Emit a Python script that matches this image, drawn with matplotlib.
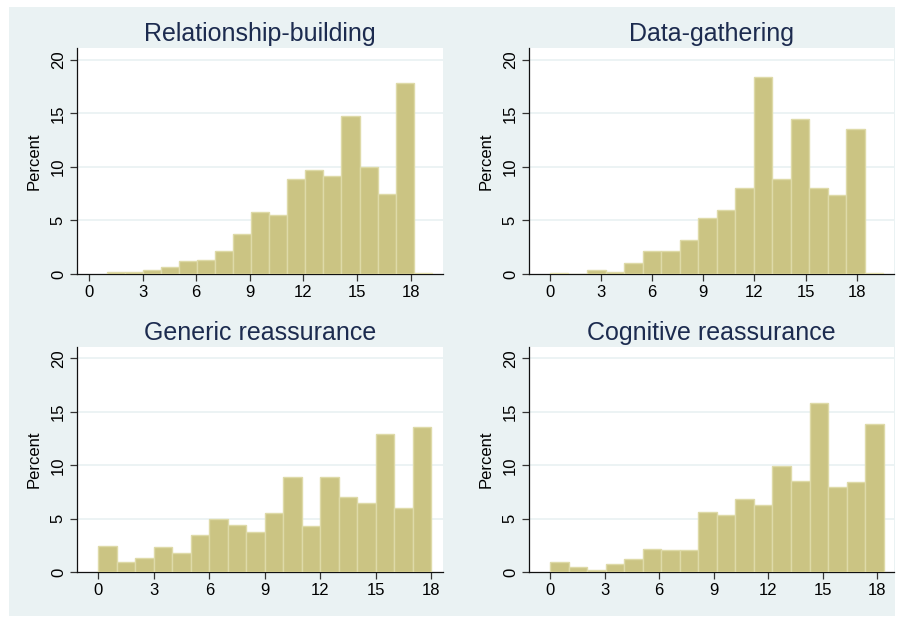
import matplotlib
matplotlib.use("Agg")
import matplotlib.pyplot as plt
import matplotlib.patches as mpatches

plt.rcParams.update({
    "font.family": ["Liberation Sans", "DejaVu Sans"],
    "axes.spines.top": False,
    "axes.spines.right": False,
})

BG = "#eaf2f3"
BAR = "#cbc483"
BAR_EDGE = "#dedaa8"
TITLE_C = "#1c2b4f"

# ── Data (percent per bin) ─────────────────────────────────────────────────────
titles = ["Relationship-building", "Data-gathering",
          "Generic reassurance", "Cognitive reassurance"]

rel_pct = [0.19, 0.19, 0.40, 0.65, 1.24, 1.34, 2.18, 3.76, 5.79, 5.54,
           8.86, 9.70, 9.18, 14.74, 9.98, 7.46, 17.82, 0.09]
dat_pct = [0.09, 0.0, 0.40, 0.19, 1.03, 2.18, 2.18, 3.20, 5.23, 5.97,
           8.02, 18.38, 8.86, 14.46, 8.02, 7.37, 13.53, 0.09]
gen_pct = [2.42, 0.93, 1.30, 2.33, 1.77, 3.45, 4.94, 4.38, 3.73, 5.50,
           8.88, 4.29, 8.88, 7.08, 6.52, 12.95, 6.06, 13.60]
cog_pct = [0.93, 0.47, 0.22, 0.75, 1.21, 2.14, 2.05, 2.05, 5.68, 5.40,
           6.89, 6.34, 9.97, 8.57, 15.84, 8.01, 8.48, 13.88]

# bin start and bin width of each histogram
bin_start = [1.0, 0.0, 0.0, 0.0]
bin_width = [1.01, 1.087, 1.0, 1.02]

x_ticks = [0, 3, 6, 9, 12, 15, 18]
y_ticks = [0, 5, 10, 15, 20]
x_lims = [(-0.67, 19.81), (-1.23, 20.19), (-1.15, 18.63), (-1.16, 18.93)]

series = [rel_pct, dat_pct, gen_pct, cog_pct]

# ── Figure ────────────────────────────────────────────────────────────────────
W, H = 903, 621
fig = plt.figure(figsize=(W / 100, H / 100), dpi=100)
fig.patch.set_facecolor("white")
fig.patches.append(mpatches.Rectangle((9 / W, 1 - 616 / H), 886 / W, 609 / H,
                                      transform=fig.transFigure,
                                      facecolor=BG, edgecolor="none", zorder=-10))

boxes = [
    (77, 274, 366, 226),
    (529, 274, 365, 226),
    (77, 572.3, 366, 225.6),
    (529, 572.3, 365, 225.6),
]

for i, (l, b, w, h) in enumerate(boxes):
    ax = fig.add_axes([l / W, 1 - b / H, w / W, h / H])
    ax.set_facecolor("white")
    vals = series[i]
    lefts = [bin_start[i] + k * bin_width[i] for k in range(len(vals))]
    ax.bar(lefts, vals, width=bin_width[i], align="edge", color=BAR,
           edgecolor=BAR_EDGE, linewidth=1.0, zorder=3)

    ax.set_xlim(*x_lims[i])
    ax.set_ylim(0, 21.1)
    ax.set_xticks(x_ticks)
    ax.set_yticks(y_ticks)
    ax.set_yticklabels([str(v) for v in y_ticks], rotation=90, va="center")
    for yv in y_ticks[1:]:
        ax.axhline(yv, color=BG, linewidth=1.3, zorder=1)

    for s in ("left", "bottom"):
        ax.spines[s].set_color("#111111")
        ax.spines[s].set_linewidth(0.9)
    ax.tick_params(axis="both", direction="out", length=5, width=0.9,
                   color="#333333", labelsize=12, labelcolor="black", pad=3)
    ax.set_ylabel("Percent", fontsize=12, labelpad=7)
    ax.set_title(titles[i], fontsize=18, color=TITLE_C, pad=5)

plt.savefig("out.png", dpi=100, facecolor=fig.get_facecolor())
